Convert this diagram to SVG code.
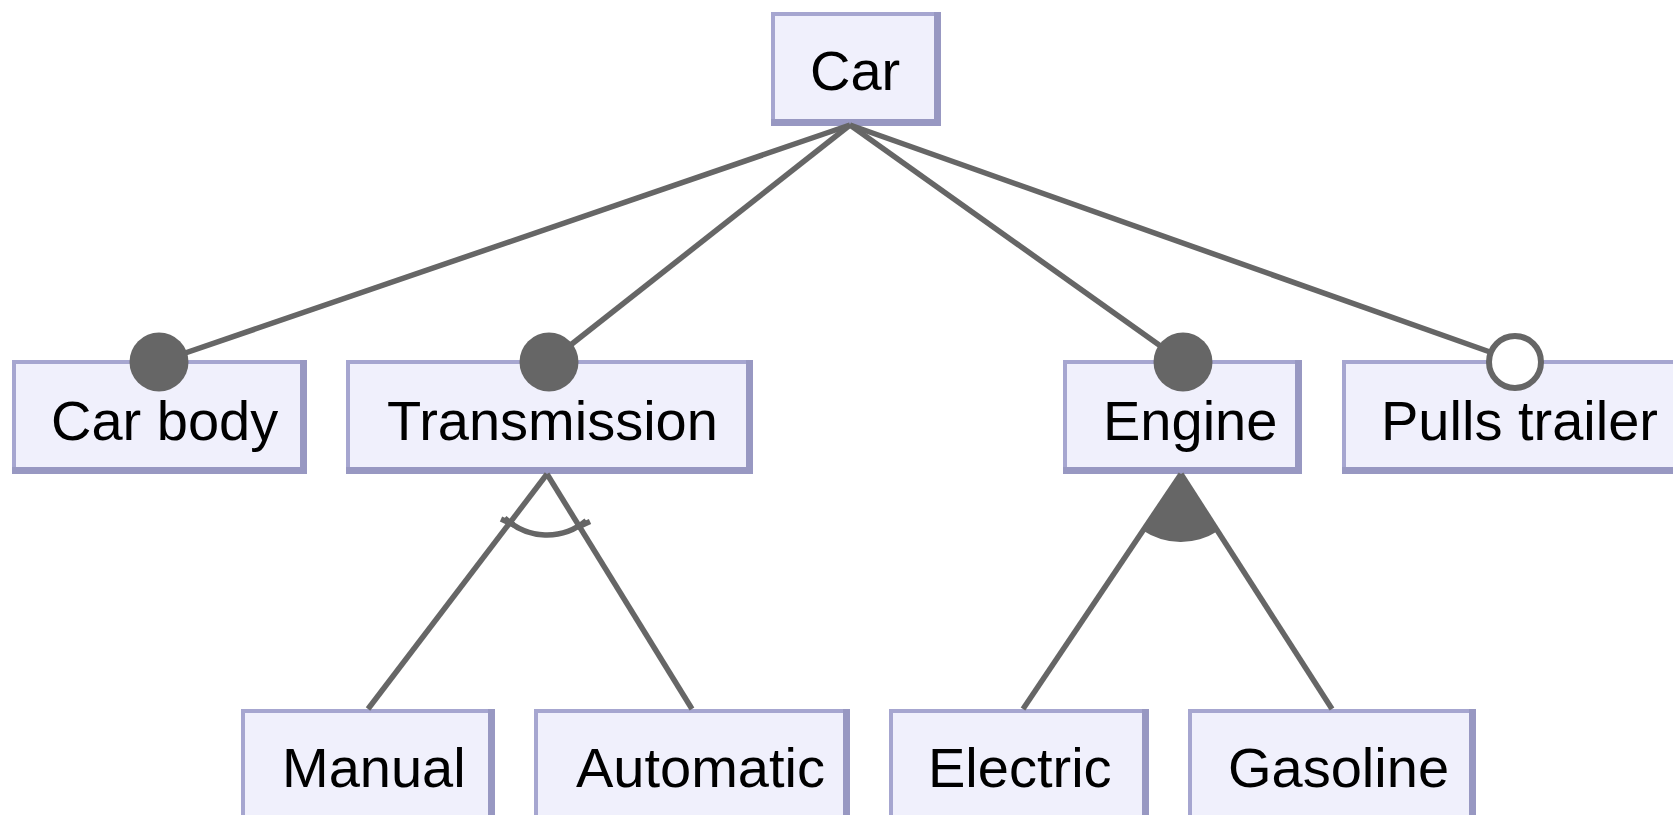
<svg xmlns="http://www.w3.org/2000/svg" width="1673" height="815" viewBox="0 0 1673 815">
  <style>
    .edge { fill: #9898c2; }
    .rim { fill: #a6a6d0; }
    .face { fill: #f0f0fc; }
    .label { font-family: "Liberation Sans", Arial, sans-serif; font-size: 56px; fill: #000; }
    .link { stroke: #666666; stroke-width: 5.5; fill: none; stroke-linecap: butt; }
    .mandatory { fill: #666666; }
    .optional { fill: #ffffff; stroke: #666666; stroke-width: 6; }
    .group-or { fill: #666666; }
  </style>
  <rect width="1673" height="815" fill="#ffffff"/>

  <!-- feature nodes: shadowed box (rim + face) + label -->
  <g id="car">
    <rect class="edge" x="771" y="12" width="170" height="114"/>
    <rect class="rim" x="771" y="12" width="163" height="107"/>
    <rect class="face" x="775" y="16" width="159" height="103"/>
    <text class="label" x="810" y="90">Car</text>
  </g>
  <g id="car-body">
    <rect class="edge" x="12" y="360" width="295" height="114"/>
    <rect class="rim" x="12" y="360" width="288" height="107"/>
    <rect class="face" x="16" y="364" width="284" height="103"/>
    <text class="label" x="51" y="440">Car body</text>
  </g>
  <g id="transmission">
    <rect class="edge" x="346" y="360" width="407" height="114"/>
    <rect class="rim" x="346" y="360" width="400" height="107"/>
    <rect class="face" x="350" y="364" width="396" height="103"/>
    <text class="label" x="387" y="440">Transmission</text>
  </g>
  <g id="engine">
    <rect class="edge" x="1063" y="360" width="239" height="114"/>
    <rect class="rim" x="1063" y="360" width="232" height="107"/>
    <rect class="face" x="1067" y="364" width="228" height="103"/>
    <text class="label" x="1103" y="440">Engine</text>
  </g>
  <g id="pulls-trailer">
    <rect class="edge" x="1342" y="360" width="400" height="114"/>
    <rect class="rim" x="1342" y="360" width="393" height="107"/>
    <rect class="face" x="1346" y="364" width="389" height="103"/>
    <text class="label" x="1381" y="440">Pulls trailer</text>
  </g>
  <g id="manual">
    <rect class="edge" x="241" y="709" width="254" height="114"/>
    <rect class="rim" x="241" y="709" width="247" height="107"/>
    <rect class="face" x="245" y="713" width="243" height="103"/>
    <text class="label" x="282" y="787">Manual</text>
  </g>
  <g id="automatic">
    <rect class="edge" x="534" y="709" width="316" height="114"/>
    <rect class="rim" x="534" y="709" width="309" height="107"/>
    <rect class="face" x="538" y="713" width="305" height="103"/>
    <text class="label" x="576" y="787">Automatic</text>
  </g>
  <g id="electric">
    <rect class="edge" x="889" y="709" width="260" height="114"/>
    <rect class="rim" x="889" y="709" width="253" height="107"/>
    <rect class="face" x="893" y="713" width="249" height="103"/>
    <text class="label" x="928" y="787">Electric</text>
  </g>
  <g id="gasoline">
    <rect class="edge" x="1188" y="709" width="288" height="114"/>
    <rect class="rim" x="1188" y="709" width="281" height="107"/>
    <rect class="face" x="1192" y="713" width="277" height="103"/>
    <text class="label" x="1228" y="787">Gasoline</text>
  </g>

  <!-- connectors and their decorations -->
  <g id="connectors">
    <!-- Car to its sub-features -->
    <line class="link" x1="850" y1="125" x2="159" y2="362"/>
    <line class="link" x1="850" y1="125" x2="549" y2="362"/>
    <line class="link" x1="850" y1="125" x2="1183" y2="362"/>
    <line class="link" x1="850" y1="125" x2="1490" y2="352"/>
    <circle class="mandatory" cx="159" cy="362" r="29.5"/>
    <circle class="mandatory" cx="549" cy="362" r="29.5"/>
    <circle class="mandatory" cx="1183" cy="362" r="29.5"/>
    <circle class="optional" cx="1515" cy="362" r="26"/>

    <!-- Transmission: alternative group -->
    <line class="link" x1="547" y1="474" x2="368" y2="709"/>
    <line class="link" x1="547" y1="474" x2="692" y2="709"/>
    <path class="link" d="M504.6,517.9 A61,61 0 0 0 586.2,520.7"/>
    <line class="link" x1="501" y1="519" x2="514" y2="525"/>
    <line class="link" x1="577" y1="527.5" x2="590" y2="521.5"/>

    <!-- Engine: or group -->
    <line class="link" x1="1181" y1="474" x2="1023" y2="709"/>
    <line class="link" x1="1181" y1="474" x2="1332" y2="709"/>
    <path class="group-or" d="M1181,474 L1142.9,530.4 A68,68 0 0 0 1217.9,531.1 Z"/>
  </g>
</svg>
